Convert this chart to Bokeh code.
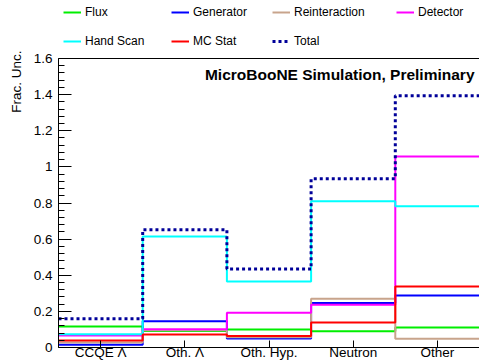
import numpy as np
from bokeh.plotting import figure
from bokeh.models import Range1d, FixedTicker, Legend, LegendItem, Label, Title, Span
from bokeh.embed import file_html
from bokeh.resources import INLINE

# Fractional uncertainty per event category, one list per source
categories = ["CCQE Λ", "Oth. Λ", "Oth. Hyp.", "Neutron", "Other"]
flux = [0.116, 0.092, 0.100, 0.090, 0.111]
generator = [0.015, 0.146, 0.050, 0.247, 0.288]
reinteraction = [0.028, 0.095, 0.057, 0.270, 0.048]
detector = [0.066, 0.101, 0.192, 0.236, 1.058]
hand_scan = [0.074, 0.615, 0.365, 0.810, 0.782]
mc_stat = [0.039, 0.072, 0.063, 0.138, 0.338]
total = [0.159, 0.652, 0.434, 0.934, 1.394]

y_ticks = [0, 0.2, 0.4, 0.6, 0.8, 1.0, 1.2, 1.4, 1.6]
y_tick_labels = ["0", "0.2", "0.4", "0.6", "0.8", "1", "1.2", "1.4", "1.6"]

FONT = "Liberation Sans"
n_bins = len(categories)
Y_TOP = 1.6
LEGEND_SPACE = 58          # pixels above the axis box kept for the legend
AXIS_H = 362 - 15          # pixel height of the plotting area incl. legend space
BOX_H = AXIS_H - LEGEND_SPACE
# the data range extends above Y_TOP so the legend sits inside the canvas frame
y_max = Y_TOP * AXIS_H / BOX_H

p = figure(width=479, height=362, output_backend="svg", toolbar_location=None,
           x_range=Range1d(0, n_bins), y_range=Range1d(0, y_max),
           min_border_left=58, min_border_right=0, min_border_top=0,
           min_border_bottom=0)
p.background_fill_color = "white"
p.border_fill_color = "white"
p.outline_line_color = None
p.xgrid.visible = False
p.ygrid.visible = False

# top edge of the axis box
p.add_layout(Span(location=Y_TOP, dimension="width", line_color="black",
                  line_width=1))


def outline(vals):
    """Step outline of a histogram with unit-width bins."""
    xs, ys = [], []
    for i, v in enumerate(vals):
        xs += [i, i + 1]
        ys += [v, v]
    return xs, ys


series = [
    ("Flux", flux, "#00ee00", "solid", 2),
    ("Generator", generator, "#0000ff", "solid", 2),
    ("Reinteraction", reinteraction, "#c8a48c", "solid", 2),
    ("Detector", detector, "#ff00ff", "solid", 2),
    ("Hand Scan", hand_scan, "#00ffff", "solid", 2),
    ("MC Stat", mc_stat, "#ff0000", "solid", 2),
    ("Total", total, "#000099", "3 3", 3),
]

renderers = {}
for name, vals, color, dash, width in series:
    xs, ys = outline(vals)
    renderers[name] = p.line(xs, ys, line_color=color, line_width=width,
                             line_dash=dash)

# x axis: category names at bin centres, short ticks pointing inward
centers = [i + 0.5 for i in range(n_bins)]
p.xaxis.ticker = FixedTicker(ticks=centers, minor_ticks=[])
p.xaxis.major_label_overrides = {c: lab for c, lab in zip(centers, categories)}
p.xaxis.major_tick_in = 7
p.xaxis.major_tick_out = 0
p.xaxis.minor_tick_in = 0
p.xaxis.minor_tick_out = 0
p.xaxis.major_label_standoff = -3
p.xaxis.major_label_text_font = FONT
p.xaxis.major_label_text_font_size = "13.5px"
p.xaxis.major_label_text_color = "black"
p.xaxis.axis_line_color = "black"
p.xaxis.major_tick_line_color = "black"

# y axis, drawn only over the axis box
p.yaxis.bounds = (0, Y_TOP)
p.yaxis.ticker = FixedTicker(ticks=y_ticks,
                             minor_ticks=list(np.round(np.arange(0, 1.6001, 0.04), 3)))
p.yaxis.major_label_overrides = {t: lab for t, lab in zip(y_ticks, y_tick_labels)}
p.yaxis.major_tick_in = 13
p.yaxis.major_tick_out = 0
p.yaxis.minor_tick_in = 6
p.yaxis.minor_tick_out = 0
p.yaxis.major_label_standoff = 6
p.yaxis.major_label_text_font = FONT
p.yaxis.major_label_text_font_size = "13.5px"
p.yaxis.major_label_text_color = "black"
p.yaxis.axis_line_color = "black"
p.yaxis.major_tick_line_color = "black"
p.yaxis.minor_tick_line_color = "black"

# vertical axis title, pinned near the top end of the axis
p.add_layout(Title(text="Frac. Unc.", align="right", text_font=FONT,
                   text_font_size="13.5px", text_font_style="normal",
                   text_color="black", standoff=13, offset=LEGEND_SPACE - 8),
             "left")

p.add_layout(Label(x=416, y=BOX_H - 16, x_units="screen", y_units="screen",
                   text="MicroBooNE Simulation, Preliminary", text_align="right",
                   text_baseline="middle", text_font=FONT,
                   text_font_style="bold", text_font_size="15.5px",
                   text_color="black"))

# legend: four columns above the axis box
columns = [(["Flux", "Hand Scan"], 5), (["Generator", "MC Stat"], 113),
           (["Reinteraction", "Total"], 214), (["Detector"], 338)]
for names, x0 in columns:
    items = [LegendItem(label=n, renderers=[renderers[n]]) for n in names]
    n_rows = len(names)
    height = n_rows * 16 + (n_rows - 1) * 13
    leg = Legend(items=items, location=(x0, AXIS_H - 4 - height),
                 orientation="vertical", glyph_width=18, glyph_height=16,
                 label_height=16, label_standoff=4, spacing=13, padding=0,
                 margin=0, border_line_color=None, background_fill_alpha=0,
                 label_text_font=FONT, label_text_font_size="12px",
                 label_text_color="black")
    p.add_layout(leg, "center")

open("out.html", "w").write(file_html(p, INLINE))
